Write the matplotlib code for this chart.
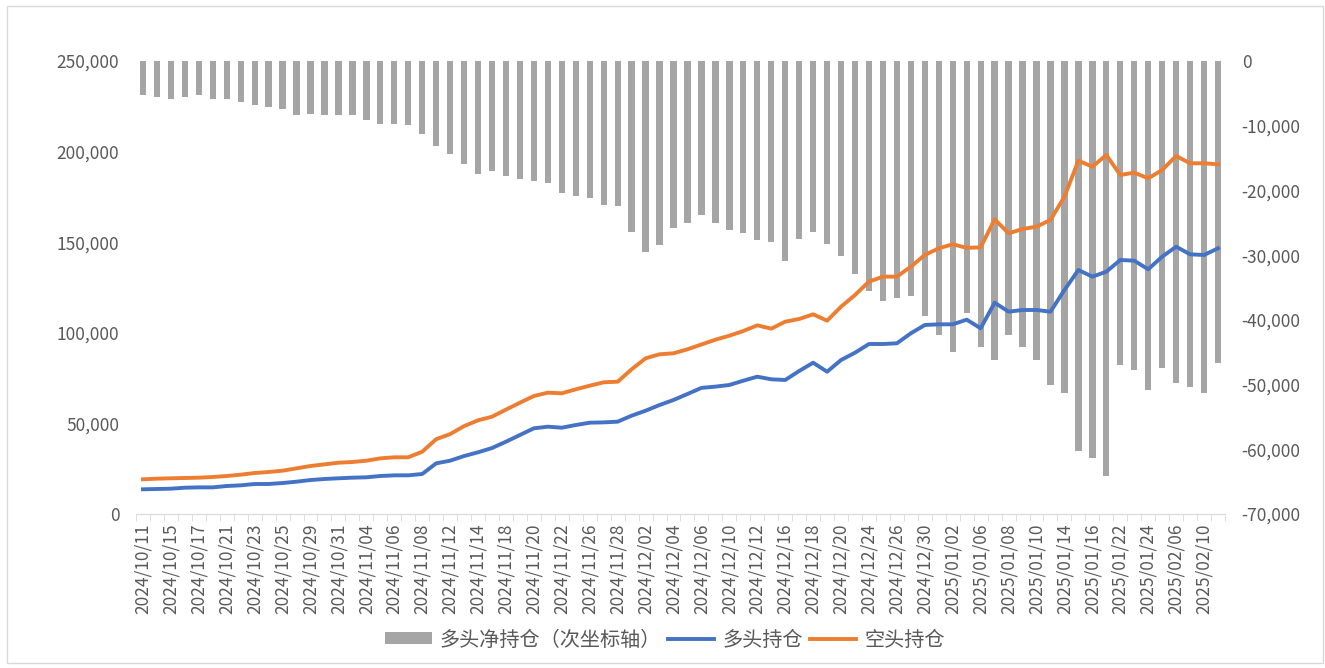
import matplotlib
matplotlib.use('Agg')
import matplotlib.pyplot as plt
import matplotlib.ticker as mticker
from matplotlib.patches import Rectangle
import numpy as np

plt.rcParams['font.family'] = ['Noto Sans CJK SC', 'DejaVu Sans']

# trading days (2024/10/11 - 2025/02/11)
dates = ['2024/10/11', '2024/10/14', '2024/10/15', '2024/10/16', '2024/10/17', '2024/10/18',
         '2024/10/21', '2024/10/22', '2024/10/23', '2024/10/24', '2024/10/25', '2024/10/28',
         '2024/10/29', '2024/10/30', '2024/10/31', '2024/11/01', '2024/11/04', '2024/11/05',
         '2024/11/06', '2024/11/07', '2024/11/08', '2024/11/11', '2024/11/12', '2024/11/13',
         '2024/11/14', '2024/11/15', '2024/11/18', '2024/11/19', '2024/11/20', '2024/11/21',
         '2024/11/22', '2024/11/25', '2024/11/26', '2024/11/27', '2024/11/28', '2024/11/29',
         '2024/12/02', '2024/12/03', '2024/12/04', '2024/12/05', '2024/12/06', '2024/12/09',
         '2024/12/10', '2024/12/11', '2024/12/12', '2024/12/13', '2024/12/16', '2024/12/17',
         '2024/12/18', '2024/12/19', '2024/12/20', '2024/12/23', '2024/12/24', '2024/12/25',
         '2024/12/26', '2024/12/27', '2024/12/30', '2024/12/31', '2025/01/02', '2025/01/03',
         '2025/01/06', '2025/01/07', '2025/01/08', '2025/01/09', '2025/01/10', '2025/01/13',
         '2025/01/14', '2025/01/15', '2025/01/16', '2025/01/21', '2025/01/22', '2025/01/23',
         '2025/01/24', '2025/01/27', '2025/02/06', '2025/02/07', '2025/02/10', '2025/02/11']

# 多头持仓
long_pos = [13630, 13800, 13970, 14520, 14700, 14700, 15450, 15820, 16560, 16560,
            17100, 17830, 18760, 19320, 19700, 20050, 20250, 20970, 21340, 21340,
            22080, 27960, 29420, 32000, 34050, 36420, 39900, 43600, 47300, 48180,
            47630, 49120, 50390, 50570, 50950, 54250, 57010, 60160, 62920, 66230,
            69600, 70300, 71200, 73570, 75780, 74340, 73950, 78920, 83500, 78530,
            84990, 89020, 93820, 93820, 94210, 99730, 104310, 104680, 104680, 107250,
            102480, 116620, 111650, 112590, 112590, 111650, 123630, 134660, 130990, 133730,
            140180, 139800, 135050, 142010, 147520, 143320, 142940, 146630]

# 空头持仓
short_pos = [19150, 19500, 19700, 19870, 20050, 20420, 20970, 21700, 22630, 23180,
             23900, 25200, 26490, 27400, 28310, 28700, 29420, 30700, 31290, 31290,
             34380, 41300, 44100, 48500, 51700, 53700, 57600, 61430, 65120, 66950,
             66620, 68820, 70810, 72680, 73020, 79860, 85930, 88140, 88690, 90900,
             93550, 96200, 98400, 101000, 104130, 102290, 106130, 107620, 110200, 106690,
             114420, 120870, 128230, 130990, 130990, 136500, 142940, 146630, 148850, 146900,
             147150, 162640, 154910, 157290, 158580, 162260, 175120, 194990, 191680, 198130,
             187090, 188380, 185250, 189850, 197580, 193550, 193550, 192990]

# 多头净持仓（次坐标轴）
net_pos = [-5255, -5500, -5800, -5500, -5250, -5800, -5800, -6300, -6800, -7050,
           -7350, -8400, -8150, -8400, -8400, -8400, -9170, -9700, -9700, -9950,
           -11240, -13140, -14370, -15920, -17470, -17000, -17780, -18240, -18550, -18860,
           -20400, -20870, -21170, -22260, -22460, -26380, -29520, -28490, -25860, -25090,
           -23800, -25090, -26120, -26630, -27710, -27970, -30860, -27460, -26430, -28280,
           -30090, -32870, -35500, -37050, -36580, -36320, -39410, -42350, -44930, -39000,
           -44150, -46210, -42350, -44150, -46210, -50080, -51370, -60280, -61310, -64140,
           -46990, -47760, -50850, -47500, -49820, -50340, -51370, -46600]

W, H = 1325, 668
fig = plt.figure(figsize=(W / 100, H / 100), dpi=100)
fig.patches.append(Rectangle((7 / W, 5 / H), 1316 / W, 657 / H, transform=fig.transFigure,
                             fill=False, edgecolor='#D9D9D9', linewidth=1))

ax = fig.add_axes([136 / W, 1 - 514 / H, 1089 / W, 453 / H])
x = np.arange(len(dates))

# bars on secondary (right) axis
ax.bar(x, net_pos, width=0.45, color='#A5A5A5', label='多头净持仓（次坐标轴）', zorder=1)
ax.set_ylim(-70000, 0)
ax.set_yticks(np.arange(-70000, 1, 10000))
ax.yaxis.set_major_formatter(mticker.FuncFormatter(lambda v, p: '{:,.0f}'.format(v)))

ax2 = ax.twinx()
ax2.plot(x, long_pos, color='#4472C4', linewidth=2.8, label='多头持仓', solid_joinstyle='round')
ax2.plot(x, short_pos, color='#ED7D31', linewidth=2.8, label='空头持仓', solid_joinstyle='round')
ax2.set_ylim(0, 250000)
ax2.set_yticks(np.arange(0, 250001, 50000))
ax2.yaxis.set_major_formatter(mticker.FuncFormatter(lambda v, p: '{:,.0f}'.format(v)))

# swap sides: bars' axis on the right, lines' axis on the left
ax.yaxis.tick_right()
ax.yaxis.set_label_position('right')
ax2.yaxis.tick_left()

for a in (ax, ax2):
    for s in a.spines.values():
        s.set_visible(False)
    a.tick_params(axis='y', length=0, labelsize=12.5, labelcolor='#595959', pad=12)

ax.spines['bottom'].set_visible(True)
ax.spines['bottom'].set_color('#D9D9D9')
ax.set_xlim(-0.5, len(dates) - 0.5)
ax.set_xticks(x)
ax.set_xticklabels([d if i % 2 == 0 else '' for i, d in enumerate(dates)],
                   rotation=90, fontsize=12.5, color='#595959')
ax.tick_params(axis='x', length=0, pad=7)
ax.set_xticks(np.arange(-0.5, len(dates), 1), minor=True)
ax.tick_params(axis='x', which='minor', length=5, color='#D9D9D9', direction='out')

h1, l1 = ax.get_legend_handles_labels()
h2, l2 = ax2.get_legend_handles_labels()
fig.legend(h1 + h2, l1 + l2, loc='center', bbox_to_anchor=(665 / W, 1 - 640 / H), ncol=3,
           frameon=False, fontsize=14.5, handlelength=2.3, handleheight=0.55,
           columnspacing=0.35, handletextpad=0.4, labelcolor='#595959')

plt.savefig('out.png', dpi=100)
